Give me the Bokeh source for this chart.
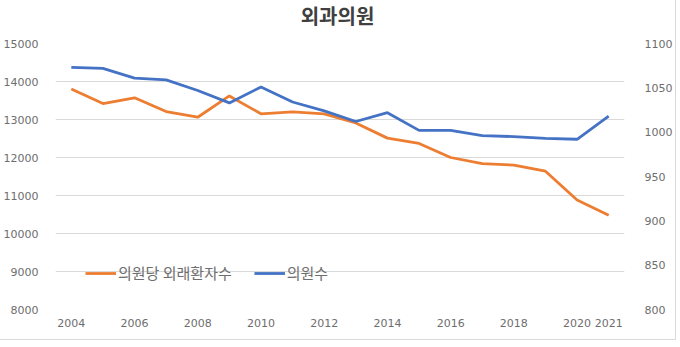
from bokeh.plotting import figure
from bokeh.models import Range1d, LinearAxis, FixedTicker, Legend, LegendItem, Div
from bokeh.layouts import column
from bokeh.embed import file_html
from bokeh.resources import INLINE

years = list(range(2004, 2022))
visits_per_clinic = [13800, 13420, 13570, 13210, 13060, 13620, 13150, 13200, 13150,
                     12910, 12510, 12370, 12000, 11840, 11800, 11640, 10880, 10480]
clinics = [1073, 1072, 1061, 1059, 1047, 1033, 1051, 1034, 1024,
           1012, 1022, 1002, 1002, 996, 995, 993, 992, 1018]
x_ticks = [2004, 2006, 2008, 2010, 2012, 2014, 2016, 2018, 2020, 2021]
left_ticks = [8000, 9000, 10000, 11000, 12000, 13000, 14000, 15000]
right_ticks = [800, 850, 900, 950, 1000, 1050, 1100]
title_text = "외과의원"
label_orange = "의원당 외래환자수"
label_blue = "의원수"

ORANGE = "#ED7D31"
BLUE = "#4472C4"
GREY = "#6e6e6e"
NUMFONT = "DejaVu Sans"
KFONT = "Noto Sans CJK KR"

title = Div(text=title_text, width=675, height=35, margin=0,
            styles={"font-family": KFONT, "font-size": "20px", "font-weight": "bold",
                    "color": "#404040", "text-align": "center", "width": "675px",
                    "line-height": "24px", "padding-top": "4px",
                    "background": "white"})

p = figure(width=675, height=304, output_backend="svg", toolbar_location=None,
           x_range=Range1d(2003.5, 2021.5), y_range=Range1d(8000, 15000),
           min_border_left=50, min_border_right=50, min_border_top=8, min_border_bottom=30,
           margin=0)
p.outline_line_color = None
p.background_fill_color = "white"
p.border_fill_color = "white"

p.extra_y_ranges = {"right": Range1d(800, 1100)}

r1 = p.line(years, visits_per_clinic, line_color=ORANGE, line_width=2.8)
r2 = p.line(years, clinics, line_color=BLUE, line_width=2.8, y_range_name="right")

p.xaxis.ticker = FixedTicker(ticks=x_ticks)
p.yaxis.ticker = FixedTicker(ticks=left_ticks)
p.xgrid.grid_line_color = None
p.ygrid.grid_line_color = "#d9d9d9"
p.ygrid.grid_line_width = 1

ra = LinearAxis(y_range_name="right", ticker=FixedTicker(ticks=right_ticks))
p.add_layout(ra, "right")

for ax in [p.xaxis[0], p.yaxis[0], ra]:
    ax.axis_line_color = None
    ax.major_tick_line_color = None
    ax.minor_tick_line_color = None
    ax.major_label_text_font = NUMFONT
    ax.major_label_text_font_size = "11px"
    ax.major_label_text_color = GREY
p.yaxis[0].major_label_standoff = 11
ra.major_label_standoff = 14
p.xaxis[0].major_label_standoff = 3

legend = Legend(items=[LegendItem(label=label_orange, renderers=[r1]),
                       LegendItem(label=label_blue, renderers=[r2])],
                orientation="horizontal", location=(30, 26))
legend.background_fill_alpha = 0
legend.border_line_color = None
legend.padding = 0
legend.margin = 0
legend.spacing = 22
legend.glyph_width = 31
legend.glyph_height = 20
legend.label_standoff = 2
legend.label_text_font = KFONT
legend.label_text_font_size = "15px"
legend.label_text_color = GREY
p.add_layout(legend, "center")

layout = column(title, p, spacing=0, margin=0,
                styles={"border-right": "1px solid #d9d9d9",
                        "border-bottom": "1px solid #d9d9d9",
                        "background": "white"})

open("out.html", "w").write(file_html(layout, INLINE))
